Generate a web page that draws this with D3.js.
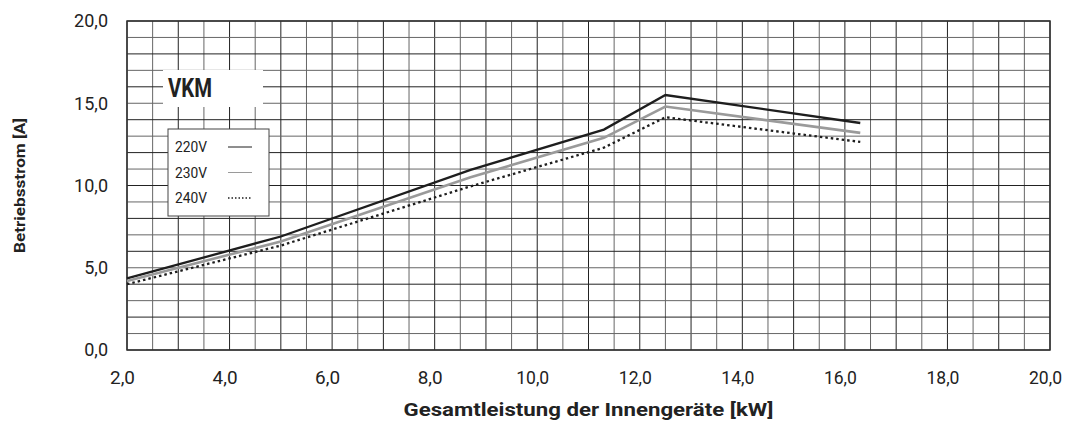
<!DOCTYPE html>
<html>
<head>
<meta charset="utf-8">
<script src="https://cdn.jsdelivr.net/npm/d3@7"></script>
<style>
  body { margin: 0; background: #fff; }
  svg text { font-family: Roboto, "Liberation Sans", sans-serif; fill: #222; }
</style>
</head>
<body>
<div id="chart"></div>
<script>
// data
const kw = [2.0, 5.0, 8.7, 11.3, 12.5, 16.3];
const amp220 = [4.35, 6.9, 10.95, 13.4, 15.5, 13.8];
const amp230 = [4.2, 6.6, 10.5, 12.9, 14.8, 13.2];
const amp240 = [4.0, 6.35, 9.95, 12.3, 14.15, 12.65];
const seriesNames = ["220V", "230V", "240V"];
const xTicks = [2, 4, 6, 8, 10, 12, 14, 16, 18, 20];
const yTicks = [0, 5, 10, 15, 20];

const width = 1067;
const height = 426;
const margin = { top: 21, right: 17, bottom: 76, left: 127 };

const x = d3.scaleLinear().domain([2, 20]).range([margin.left, width - margin.right]);
const y = d3.scaleLinear().domain([0, 20]).range([height - margin.bottom, margin.top]);

const fmt = d => d3.format(".1f")(d).replace(".", ",");

const svg = d3.select("#chart").append("svg")
    .attr("width", width)
    .attr("height", height);

// grid
const grid = svg.append("g");
grid.selectAll("line.v")
    .data(d3.range(2, 20.01, 0.5))
    .enter().append("line")
    .attr("x1", d => x(d)).attr("x2", d => x(d))
    .attr("y1", y(0)).attr("y2", y(20))
    .attr("stroke", (d, i) => i % 2 === 0 ? "#222" : "#666")
    .attr("stroke-width", 1);
grid.selectAll("line.h")
    .data(d3.range(0, 20.01, 1))
    .enter().append("line")
    .attr("x1", x(2)).attr("x2", x(20))
    .attr("y1", d => y(d)).attr("y2", d => y(d))
    .attr("stroke", (d, i) => i % 2 === 0 ? "#222" : "#666")
    .attr("stroke-width", 1);

// frame
svg.append("rect")
    .attr("x", x(2)).attr("y", y(20))
    .attr("width", x(20) - x(2)).attr("height", y(0) - y(20))
    .attr("fill", "none")
    .attr("stroke", "#333")
    .attr("stroke-width", 1.5);

// axes with labels only
const xAxis = svg.append("g")
    .attr("transform", `translate(0,${y(0)})`)
    .call(d3.axisBottom(x).tickValues(xTicks).tickFormat(fmt).tickSize(0).tickPadding(21));
xAxis.select(".domain").remove();
xAxis.selectAll("text")
    .attr("font-size", 18)
    .attr("dx", -5)
    .attr("textLength", 33)
    .attr("lengthAdjust", "spacingAndGlyphs");
xAxis.selectAll(".tick text").filter(d => d < 10).attr("textLength", 25);

const yAxis = svg.append("g")
    .attr("transform", `translate(${x(2)},0)`)
    .call(d3.axisLeft(y).tickValues(yTicks).tickFormat(fmt).tickSize(0).tickPadding(19));
yAxis.select(".domain").remove();
yAxis.selectAll("text").attr("font-size", 18);

// axis titles
svg.append("text")
    .attr("x", (x(2) + x(20)) / 2)
    .attr("y", 416)
    .attr("text-anchor", "middle")
    .attr("font-size", 19)
    .attr("font-weight", "bold")
    .attr("textLength", 370)
    .attr("lengthAdjust", "spacingAndGlyphs")
    .text("Gesamtleistung der Innengeräte [kW]");

svg.append("text")
    .attr("transform", `translate(25,${(y(0) + y(20)) / 2}) rotate(-90)`)
    .attr("text-anchor", "middle")
    .attr("font-size", 15)
    .attr("font-weight", "bold")
    .attr("textLength", 135)
    .attr("lengthAdjust", "spacingAndGlyphs")
    .text("Betriebsstrom [A]");

// lines
const series = [
    { name: seriesNames[0], values: amp220, color: "#1e1e1e", width: 2.3, dash: null },
    { name: seriesNames[1], values: amp230, color: "#9a9a9a", width: 2.6, dash: null },
    { name: seriesNames[2], values: amp240, color: "#1e1e1e", width: 2.3, dash: "2.5,3" }
];

const line = d3.line()
    .x(d => x(d[0]))
    .y(d => y(d[1]));

svg.append("g").selectAll("path")
    .data(series)
    .enter().append("path")
    .attr("d", s => line(kw.map((k, i) => [k, s.values[i]])))
    .attr("fill", "none")
    .attr("stroke", s => s.color)
    .attr("stroke-width", s => s.width)
    .attr("stroke-dasharray", s => s.dash);

// VKM label box
svg.append("rect")
    .attr("x", 163).attr("y", 70)
    .attr("width", 100).attr("height", 37)
    .attr("fill", "#fff");
svg.append("text")
    .attr("x", 168).attr("y", 97)
    .attr("font-size", 25)
    .attr("font-weight", "bold")
    .attr("textLength", 44)
    .attr("lengthAdjust", "spacingAndGlyphs")
    .text("VKM");

// legend
const legend = svg.append("g");
legend.append("rect")
    .attr("x", 168).attr("y", 129)
    .attr("width", 101).attr("height", 87)
    .attr("fill", "#fff")
    .attr("stroke", "#444")
    .attr("stroke-width", 1);

const items = legend.selectAll("g.item")
    .data(series)
    .enter().append("g")
    .attr("transform", (d, i) => `translate(0,${i * 25.5})`);
items.append("text")
    .attr("x", 175).attr("y", 152)
    .attr("font-size", 15)
    .attr("textLength", 32)
    .attr("lengthAdjust", "spacingAndGlyphs")
    .text(d => d.name);
items.append("line")
    .attr("x1", 228).attr("x2", 252)
    .attr("y1", 147).attr("y2", 147)
    .attr("stroke", d => d.color)
    .attr("stroke-width", d => d.dash ? 1.5 : 1)
    .attr("stroke-dasharray", d => d.dash ? "1.5,2" : null);
</script>
</body>
</html>
